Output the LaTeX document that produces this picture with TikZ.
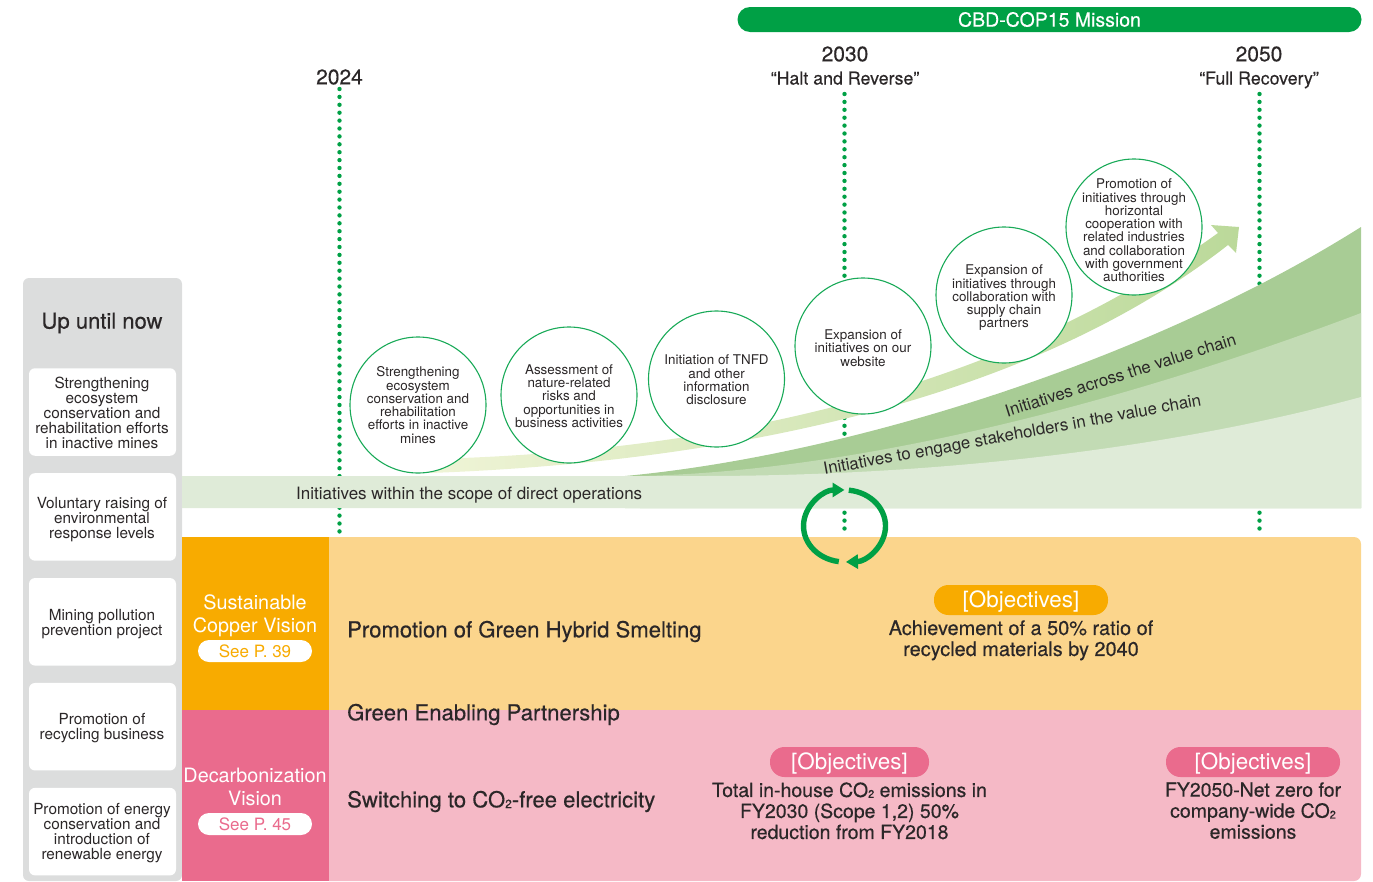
\documentclass[tikz,border=0pt]{standalone}
\usepackage{fontspec}
\setmainfont{TeX Gyre Heros}
\newfontfamily\medfont[FakeBold=0.35]{TeX Gyre Heros}
\usetikzlibrary{arrows.meta,positioning}
\definecolor{dg}{HTML}{00A045}
\definecolor{ink}{HTML}{2B2728}
\definecolor{greyback}{HTML}{DCDDDD}
\definecolor{amber}{HTML}{F8AB00}
\definecolor{paleamber}{HTML}{FBD58C}
\definecolor{rose}{HTML}{EA6B8D}
\definecolor{palerose}{HTML}{F5B9C6}
\definecolor{bandA}{HTML}{DFEBD8}
\definecolor{bandB}{HTML}{C2DBB4}
\definecolor{bandC}{HTML}{A8CC95}
\definecolor{shaftA}{HTML}{EFF4D6}
\definecolor{shaftB}{HTML}{BBD99A}
\newcommand{\cotwo}[1]{CO\raisebox{-0.8pt}{\fontsize{#1}{#1}\selectfont 2}}
\tikzset{
    every node/.style = {text=ink,
                    inner sep=0pt},
    mile/.style =   {circle,
                    fill=white,
                    draw=dg!90!white,
                    line width=1.1pt,
                    minimum size=136pt},
    miletext/.style = {align=center,
                    font=\fontsize{13.4}{13.25}\selectfont},
    past/.style =   {rectangle,
                    rounded corners=6pt,
                    fill=white,
                    minimum width=147pt,
                    minimum height=87.5pt},
    pasttext/.style = {align=center,
                    font=\fontsize{15.3}{15}\selectfont},
    vision/.style = {text=white,
                    align=center,
                    font=\fontsize{19.8}{22.5}\selectfont},
    seepage/.style = {rectangle,
                    rounded corners=11pt,
                    fill=white,
                    minimum width=114pt,
                    minimum height=22pt,
                    font=\fontsize{17}{17}\selectfont},
    aim/.style =    {rectangle,
                    rounded corners=14.5pt,
                    text=white,
                    minimum height=30pt,
                    text height=17pt,
                    text depth=1.6pt,
                    font=\fontsize{22.4}{22.4}\selectfont},
    head/.style =   {anchor=west,
                    font=\medfont\fontsize{22.1}{22.1}\selectfont},
    goal/.style =   {align=center,
                    font=\medfont\fontsize{19.5}{21}\selectfont},
    year/.style =   {font=\medfont\fontsize{21}{21}\selectfont},
    motto/.style =  {text height=13pt,
                    text depth=4pt,
                    font=\medfont\fontsize{17.8}{17.8}\selectfont},
    flow/.style =   {font=\fontsize{16.8}{16.8}\selectfont},
    yearline/.style = {draw=dg,
                    line width=4.4pt,
                    line cap=round,
                    dash pattern=on 0pt off 7.9pt},
    cycle/.style =  {draw=dg,
                    line width=5.4pt,
                    -{Triangle[length=12pt,width=14pt]}}
}
\begin{document}
\begin{tikzpicture}[x=1pt,y=-1pt]
    \useasboundingbox (0,0) rectangle (1373,881);

    % left column
    \fill[greyback,rounded corners=6pt] (23,278) rectangle (182,881);
    \node[font=\medfont\fontsize{22}{22}\selectfont] (now) at (102,323) {Up until now};
    \node[past] (p1) at (102.5,412) {};
    \node[past,below=17pt of p1] (p2) {};
    \node[past,below=17pt of p2] (p3) {};
    \node[past,below=17pt of p3] (p4) {};
    \node[past,below=17pt of p4] (p5) {};
    \node[pasttext] (t1) at (102,413)   {Strengthening\\ecosystem\\conservation and\\rehabilitation efforts\\in inactive mines};
    \node[pasttext] (t2) at (102,519.5) {Voluntary raising of\\environmental\\response levels};
    \node[pasttext] (t3) at (102,624)   {Mining pollution\\prevention project};
    \node[pasttext] (t4) at (102,728)   {Promotion of\\recycling business};
    \node[pasttext] (t5) at (102,833)   {Promotion of energy\\conservation and\\introduction of\\renewable energy};

    % year lines
    \node[year]  (y2024) at (339.5,77) {2024};
    \node[year]  (y2030) at (845,54)   {2030};
    \node[year]  (y2050) at (1259,54)  {2050};
    \node[motto] (m2030) at (845,80)   {“Halt and Reverse”};
    \node[motto] (m2050) at (1259,80)  {“Full Recovery”};
    \coordinate (s2024) at (339.5,89);
    \coordinate (s2030) at (844.5,94);
    \coordinate (s2050) at (1259.5,94);
    \coordinate (e2024) at (339.5,536);
    \coordinate (e2030) at (844.5,536);
    \coordinate (e2050) at (1259.5,536);
    \draw[yearline] (s2024) -- (e2024);
    \draw[yearline] (s2030) -- (e2030);
    \draw[yearline] (s2050) -- (e2050);

    % top bar
    \node[rectangle,rounded corners=12.5pt,fill=dg,text=white,minimum width=624pt,minimum height=25pt,
          font=\medfont\fontsize{19.5}{19.5}\selectfont] (cop) at (1049.5,19.5) {CBD-COP15 Mission};

    % bands
    \fill[bandC] (625,476) .. controls (850,455) and (1150,360) .. (1361,227) -- (1361,508) -- (625,508) -- cycle;
    \fill[bandB] (640,476) .. controls (900,470) and (1190,378) .. (1361,313) -- (1361,508) -- (640,508) -- cycle;
    \fill[bandA] (182,476) -- (700,476) .. controls (950,476) and (1180,446) .. (1361,397) -- (1361,508) -- (182,508) -- cycle;
    \path[left color=shaftA,right color=shaftB]
        (430,459) .. controls (720,452) and (1000,390) .. (1218,233) -- (1211,225) -- (1239,227) -- (1236,253) -- (1228,245)
        .. controls (1030,400) and (730,462) .. (430,473) -- cycle;
    \node[font=\fontsize{17}{17}\selectfont,anchor=west] (direct) at (296,495) {Initiatives within the scope of direct operations};
    \node[flow,rotate=17.6] (across) at (1120.5,375) {Initiatives across the value chain};
    \node[flow,rotate=10.4] (engage) at (1012.5,436) {Initiatives to engage stakeholders in the value chain};

    % milestones
    \node[mile] (c1) at (418,405)  {};
    \node[mile] (c2) at (569,395)  {};
    \node[mile] (c3) at (716.5,379) {};
    \node[mile] (c4) at (863,346)  {};
    \node[mile] (c5) at (1004,295) {};
    \node[mile] (c6) at (1134,227) {};
    \node[miletext] (m1) at (418,405)    {Strengthening\\ecosystem\\conservation and\\rehabilitation\\efforts in inactive\\mines};
    \node[miletext] (m2) at (569,396)    {Assessment of\\nature-related\\risks and\\opportunities in\\business activities};
    \node[miletext] (m3) at (716.5,380)  {Initiation of TNFD\\and other\\information\\disclosure};
    \node[miletext] (m4) at (863,348)    {Expansion of\\initiatives on our\\website};
    \node[miletext] (m5) at (1004,298)   {Expansion of\\initiatives through\\collaboration with\\supply chain\\partners};
    \node[miletext] (m6) at (1134,230.5) {Promotion of\\initiatives through\\horizontal\\cooperation with\\related industries\\and collaboration\\with government\\authorities};

    % panels
    \fill[paleamber] (329,710) -- (329,537) -- (1354,537) arc[start angle=90,end angle=0,radius=7pt] -- (1361,710) -- cycle;
    \fill[palerose] (329,710) -- (1361,710) -- (1361,874) arc[start angle=0,end angle=-90,radius=7pt] -- (329,881) -- cycle;
    \fill[amber] (182,537) rectangle (329,710);
    \fill[rose] (182,710) rectangle (329,881);

    \node[vision] (v1) at (255,616) {Sustainable\\Copper Vision};
    \node[seepage,text=amber] (s1) at (255,651) {See P. 39};
    \node[vision] (v2) at (255,787) {Decarbonization\\Vision};
    \node[seepage,text=rose] (s2) at (255,824) {See P. 45};

    \node[head] (h1) at (347,631.5) {Promotion of Green Hybrid Smelting};
    \node[head] (h2) at (347,714.5) {Green Enabling Partnership};
    \node[head] (h3) at (347,801.5) {Switching to \cotwo{12}-free electricity};

    \node[aim,fill=amber,minimum width=174pt] (a1) at (1021,600) {[Objectives]};
    \node[aim,fill=rose,minimum width=159pt]  (a2) at (849.5,762) {[Objectives]};
    \node[aim,fill=rose,minimum width=174pt]  (a3) at (1253,762) {[Objectives]};
    \node[goal,font=\medfont\fontsize{19.9}{21}\selectfont,below=5pt of a1] (g1) {Achievement of a 50\% ratio of\\recycled materials by 2040};
    \node[goal,below=5pt of a2] (g2) {Total in-house \cotwo{11} emissions in\\FY2030 (Scope 1,2) 50\%\\reduction from FY2018};
    \node[goal,below=5pt of a3] (g3) {FY2050-Net zero for\\company-wide \cotwo{11}\\emissions};

    % cycle arrows
    \coordinate (loop) at (844.5,526);
    \draw[cycle] (loop) ++(-5.7pt,-35.6pt) arc[start angle=262,end angle=90,x radius=41pt,y radius=36pt];
    \draw[cycle] (loop) ++(4.3pt,35.8pt) arc[start angle=84,end angle=-88,x radius=41pt,y radius=36pt];
\end{tikzpicture}
\end{document}
